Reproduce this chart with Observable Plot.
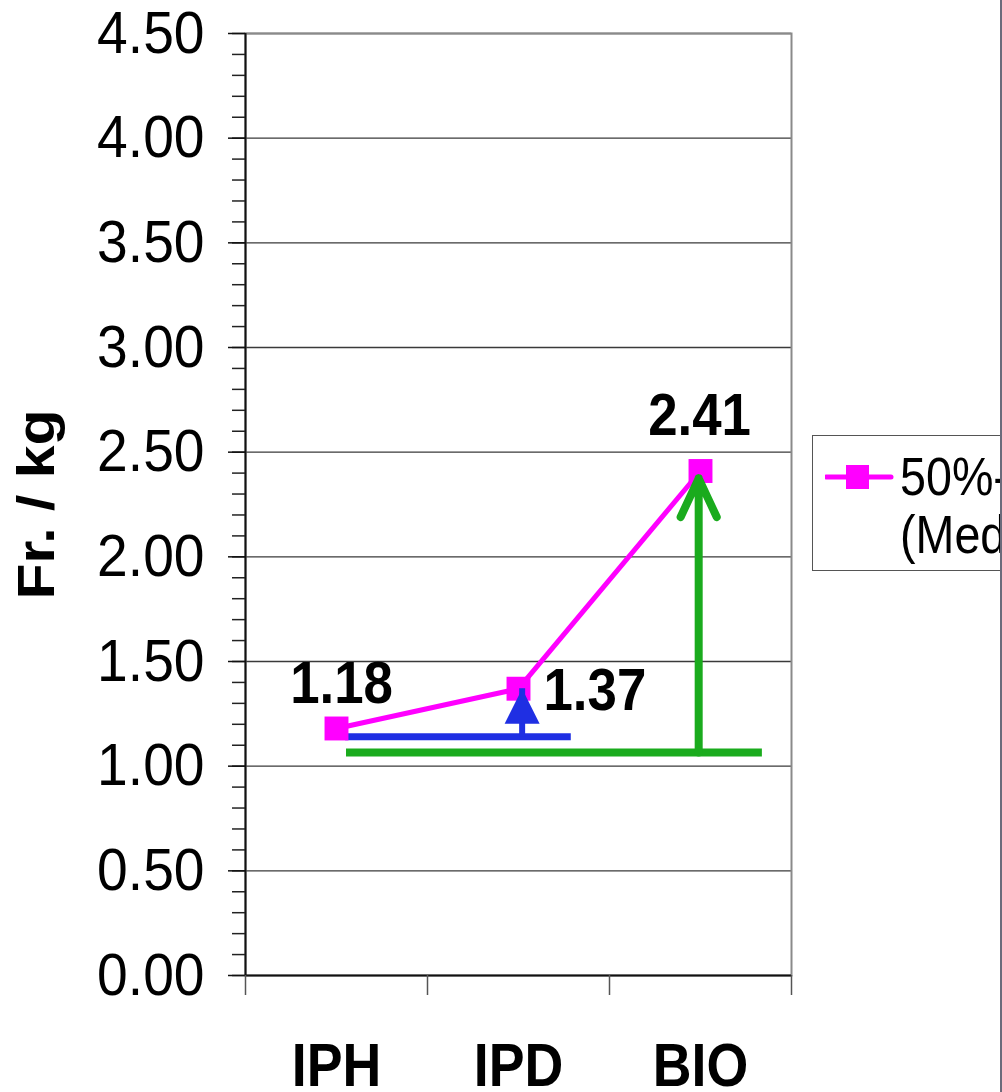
<!DOCTYPE html>
<html>
<head>
<meta charset="utf-8">
<script src="https://cdn.jsdelivr.net/npm/d3@7"></script>
<script src="https://cdn.jsdelivr.net/npm/@observablehq/plot@0.6"></script>
<style>
  html, body { margin: 0; padding: 0; background: #fff; overflow: hidden; }
  #wrap { position: relative; width: 1002px; height: 1092px; overflow: hidden;
          font-family: "Liberation Sans", Arial, sans-serif; }
  #edge { position: absolute; left: 1000px; top: 0; width: 2px; height: 1092px; background: #6b6b7b; }
  #legend { position: absolute; left: 812px; top: 435px; width: 330px; height: 136px;
            border: 1px solid #555; background: #fff; box-sizing: border-box; }
  #legend svg { position: absolute; left: 12px; top: 27px; }
  #legend .txt { position: absolute; left: 87px; font-size: 53px; line-height: 1; white-space: nowrap;
                 transform: scaleX(0.88); transform-origin: left top; color: #000; }
</style>
</head>
<body>
<div id="wrap">
  <div id="chart"></div>
  <div id="legend">
    <svg width="70" height="28" viewBox="0 0 70 28">
      <line x1="1" y1="14" x2="66" y2="14" stroke="#ff00ff" stroke-width="5" stroke-linecap="round"></line>
      <rect x="21" y="2" width="23" height="24" fill="#ff00ff"></rect>
    </svg>
    <div class="txt" style="top:14px">50%-Quantil</div>
    <div class="txt" style="top:72px">(Median)</div>
  </div>
  <div id="edge"></div>
</div>
<script>
// Price per kg, median by category
const categories = ["IPH", "IPD", "BIO"];
const medianValues = [1.18, 1.37, 2.41];

// Value axis ticks
const yMajorTicks = [0, 0.5, 1, 1.5, 2, 2.5, 3, 3.5, 4, 4.5];
const yMinorTicks = d3.range(0, 4.51, 0.1).map(v => +v.toFixed(1));
const xBoundaryTicks = [0.5, 1.5, 2.5, 3.5];

// Step annotations, x in category units (IPH = 1, IPD = 2, BIO = 3)
const blueBase = [{x1: 1.05, x2: 2.29, y: 1.14}];
const blueRise = [{x: 2.02, y1: 1.14, y2: 1.37}];
const greenBase = [{x1: 1.055, x2: 3.34, y: 1.065}];
const greenRise = [{x: 2.99, y1: 1.065, y2: 2.375}];

const MAGENTA = "#ff00ff";
const BLUE = "#1f2fe3";
const GREEN = "#1aab1d";
const FONT = "Liberation Sans, Arial, sans-serif";
const SQUEEZE = 0.88;
const TICK_SQUEEZE = 0.92;

const points = categories.map((name, i) => ({pos: i + 1, name, value: medianValues[i]}));

// Filled arrowhead with its tip at the anchor point
const arrowHead = {
  draw(context, size) {
    const r = Math.sqrt(size / Math.PI);
    context.moveTo(0, 0);
    context.lineTo(r, 2 * r);
    context.lineTo(-r, 2 * r);
    context.closePath();
  }
};

// Value label placement for each category
const labelPlacement = {
  IPH: {textAnchor: "middle", lineAnchor: "bottom", dx: 5, dy: -25},
  IPD: {textAnchor: "start", lineAnchor: "middle", dx: 25, dy: 2},
  BIO: {textAnchor: "middle", lineAnchor: "bottom", dx: -1, dy: -36}
};
const valueLabels = points.map(p => Plot.text([p], {
  x: "pos", y: "value", text: d => d.value.toFixed(2),
  fontSize: 60, fontWeight: "bold", fill: "#000",
  ...labelPlacement[p.name]
}));

const chart = Plot.plot({
  width: 1002,
  height: 1092,
  marginLeft: 245,
  marginRight: 211,
  marginTop: 33,
  marginBottom: 117,
  style: {fontFamily: FONT, background: "white", color: "#000"},
  x: {type: "linear", domain: [0.5, 3.5]},
  y: {domain: [0, 4.5]},
  marks: [
    Plot.ruleY(yMajorTicks.filter(d => d > 0), {stroke: "#3a3a3a", strokeWidth: 1.4}),
    Plot.frame({stroke: "#8a8a8a", strokeWidth: 2}),
    Plot.ruleX([0.5], {stroke: "#111", strokeWidth: 2}),
    Plot.ruleY([0], {stroke: "#111", strokeWidth: 2}),
    Plot.axisY({ticks: yMinorTicks, tickSize: 13, tickFormat: () => "", stroke: "#222", strokeWidth: 1.5, label: null}),
    Plot.axisY({ticks: yMajorTicks, tickSize: 17, tickPadding: 24, tickFormat: d => d.toFixed(2),
                fontSize: 60, stroke: "#111", strokeWidth: 1.5, label: null, className: "ytick"}),
    Plot.axisX({ticks: xBoundaryTicks, tickSize: 20, tickFormat: () => "", stroke: "#555", strokeWidth: 1.5, label: null}),
    Plot.axisX({ticks: points.map(d => d.pos), tickSize: 0, tickPadding: 67,
                tickFormat: i => categories[i - 1], fontSize: 61, fontWeight: "bold", label: null}),
    Plot.text(["Fr. / kg"], {frameAnchor: "left", textAnchor: "middle", rotate: -90, dx: -208,
                             fontSize: 59, fontWeight: "bold", fill: "#000"}),
    Plot.ruleY(greenBase, {x1: "x1", x2: "x2", y: "y", stroke: GREEN, strokeWidth: 8}),
    Plot.ruleY(blueBase, {x1: "x1", x2: "x2", y: "y", stroke: BLUE, strokeWidth: 7}),
    Plot.line(points, {x: "pos", y: "value", stroke: MAGENTA, strokeWidth: 5}),
    Plot.dot(points, {x: "pos", y: "value", symbol: "square", r: 13.5, fill: MAGENTA, stroke: "none"}),
    Plot.ruleX(blueRise, {x: "x", y1: "y1", y2: "y2", stroke: BLUE, strokeWidth: 6}),
    Plot.dot(blueRise, {x: "x", y: "y2", symbol: arrowHead, r: 17.5, fill: BLUE, stroke: "none"}),
    Plot.arrow(greenRise, {x1: "x", x2: "x", y1: "y1", y2: "y2", stroke: GREEN, strokeWidth: 8,
                           headAngle: 50, headLength: 8, strokeLinecap: "round", strokeLinejoin: "round"}),
    ...valueLabels
  ]
});

// Narrow the lettering horizontally
for (const t of chart.querySelectorAll("text")) {
  const k = t.closest(".ytick") ? TICK_SQUEEZE : SQUEEZE;
  let tr = t.getAttribute("transform");
  if (tr == null) {
    const x = +t.getAttribute("x") || 0;
    t.setAttribute("x", 0);
    tr = `translate(${x},0)`;
  }
  tr += /rotate/.test(tr) ? ` scale(1,${k})` : ` scale(${k},1)`;
  t.setAttribute("transform", tr);
}

document.getElementById("chart").appendChild(chart);
</script>
</body>
</html>
